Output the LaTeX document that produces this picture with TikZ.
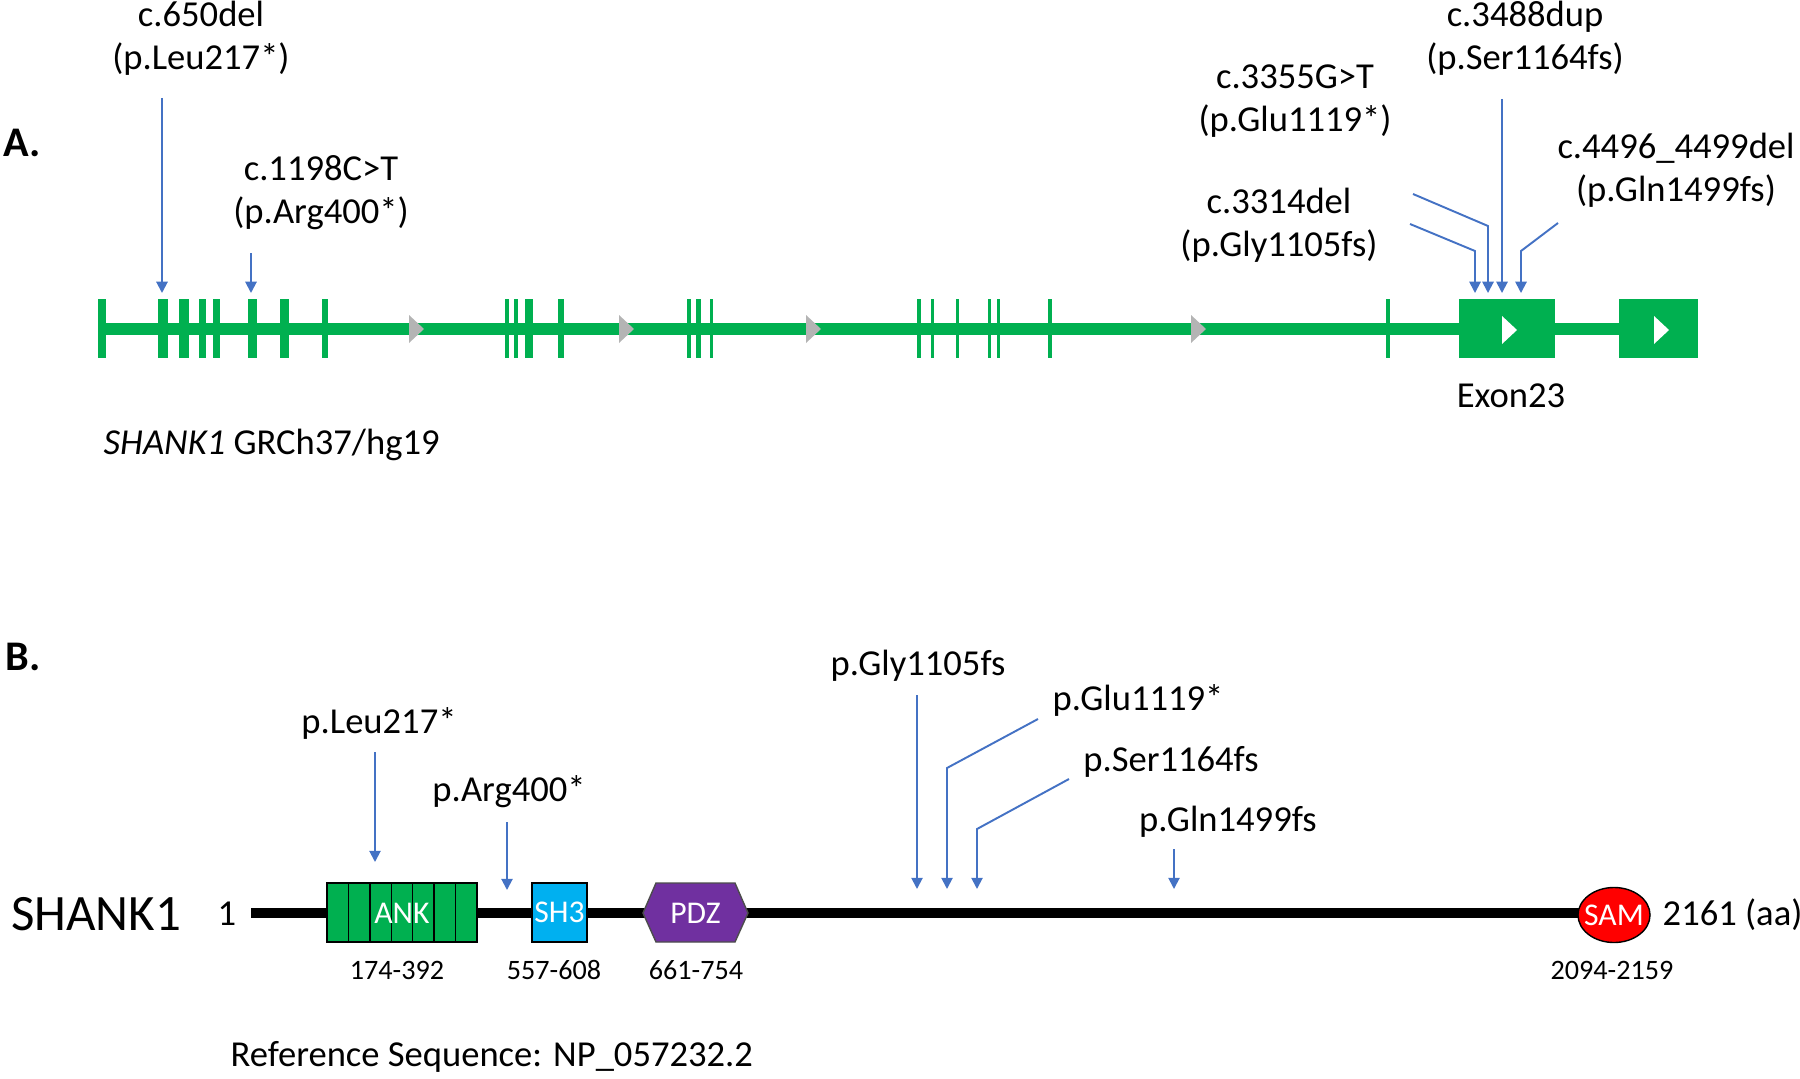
\documentclass[tikz,border=0pt]{standalone}
\usepackage{fontspec}
\setmainfont{Carlito}
\usetikzlibrary{arrows.meta, shapes.geometric}
\definecolor{exgreen}{HTML}{00B050}
\definecolor{mutblue}{HTML}{4472C4}
\definecolor{intgray}{HTML}{B4B4B4}
\definecolor{shblue}{HTML}{00B0F0}
\definecolor{pdzpurple}{HTML}{7030A0}

\begin{document}
\begin{tikzpicture}[x=0.01cm, y=-0.01cm,
  lbl/.style={align=center, inner sep=0pt, font=\fontsize{10.4}{12.2}\selectfont},
  mut/.style={draw=mutblue, line width=0.55pt, -{Triangle[length=3.2pt,width=3.2pt]}},
  exon/.style={fill=exgreen},
  dom/.style={draw=black, line width=0.4pt, text=white, inner sep=0pt, font=\fontsize{9}{10}\selectfont},
  num/.style={inner sep=0pt, font=\fontsize{8}{9}\selectfont},
  panel/.style={inner sep=0pt, font=\fontsize{12}{14}\selectfont\bfseries}]
  \useasboundingbox (0,0) rectangle (1800,1079);

  % A. gene model
  \node[panel] (pa) at (22,143) {A.};
  \draw[exgreen, line width=3.4pt] (100,329) -- (1690,329);
  \foreach \a/\b in {98/106,158/168,179/189,199/206,213/220,248/257,280/289,322/328,
                     505/509,514/518,525/533,558/564,687/691,696/701,710/713,
                     917/921,931/934,956/959,988/991,997/1000,1048/1052,1386/1390}
    \fill[exon] (\a,299) rectangle (\b,358);
  \fill[exon] (1459,299) rectangle (1555,358);
  \fill[exon] (1619,299) rectangle (1698,358);
  \foreach \x in {409,619,806,1191}
    \fill[intgray] (\x,315) -- ({\x+15},329) -- (\x,343) -- cycle;
  \foreach \x in {1502,1654}
    \fill[white] (\x,316) -- ({\x+15},330) -- (\x,344) -- cycle;

  \node[lbl] (m650) at (201,38) {c.650del\\(p.Leu217*)};
  \node[lbl] (m1198) at (321,193) {c.1198C>T\\(p.Arg400*)};
  \node[lbl] (m3355) at (1295,101) {c.3355G>T\\(p.Glu1119*)};
  \node[lbl] (m3488) at (1525,38) {c.3488dup\\(p.Ser1164fs)};
  \node[lbl] (m4496) at (1676,170) {c.4496\_4499del\\(p.Gln1499fs)};
  \node[lbl] (m3314) at (1279,225) {c.3314del\\(p.Gly1105fs)};
  \node[lbl] (ex23) at (1511,396) {Exon23};
  \node[lbl, anchor=west] (gname) at (103,445) {\textit{SHANK1} GRCh37/hg19};

  \foreach \n/\x/\y in {s650/162/98, t650/162/293, s1198/251/253, t1198/251/293,
                        s3314/1410/224, k3314/1475/251, t3314/1475/293,
                        s3355/1413/194, k3355/1488/226, t3355/1488/293,
                        s3488/1502/99, t3488/1502/293,
                        s4496/1558/223, k4496/1521/251, t4496/1521/293}
    \coordinate (\n) at (\x,\y);
  \draw[mut] (s650) -- (t650);
  \draw[mut] (s1198) -- (t1198);
  \draw[mut] (s3314) -- (k3314) -- (t3314);
  \draw[mut] (s3355) -- (k3355) -- (t3355);
  \draw[mut] (s3488) -- (t3488);
  \draw[mut] (s4496) -- (k4496) -- (t4496);

  % B. protein
  \node[panel] (pb) at (23,657) {B.};
  \node[inner sep=0pt, font=\fontsize{14.5}{16}\selectfont] (pname) at (96,914) {SHANK1};
  \node[lbl] (pone) at (227,914) {1};
  \draw[line width=3.1pt] (251,913) -- (1590,913);
  \foreach \i in {0,...,6}
    \draw[fill=exgreen, line width=0.4pt] ({327+\i*150/7},883) rectangle ++({150/7},59);
  \node[dom, draw=none] (ank) at (402,913) {ANK};
  \node[dom, fill=shblue, minimum width=0.55cm, minimum height=0.59cm] (sh3) at (559.5,912.5) {SH3};
  \fill[pdzpurple, draw=black!70, line width=0.4pt]
    (643,913) -- (656,883) -- (735,883) -- (748,913) -- (735,942) -- (656,942) -- cycle;
  \node[dom, draw=none] (pdz) at (695.5,913) {PDZ};
  \filldraw[fill=red, draw=black, line width=0.4pt] (1614,915) ellipse [x radius=0.36cm, y radius=0.275cm];
  \node[dom, draw=none] (sam) at (1614,915) {SAM};
  \node[lbl, anchor=west] (plen) at (1662,915) {2161 (aa)};

  \node[num] (rank) at (397,970) {174-392};
  \node[num] (rsh3) at (554,970) {557-608};
  \node[num] (rpdz) at (696,970) {661-754};
  \node[num] (rsam) at (1612,970) {2094-2159};
  \node[lbl, anchor=west] (refseq) at (230,1057) {Reference Sequence: NP\_057232.2};

  \node[lbl] (pLeu) at (379,723) {p.Leu217*};
  \node[lbl] (pArg) at (509,792) {p.Arg400*};
  \node[lbl] (pGly) at (918,666) {p.Gly1105fs};
  \node[lbl] (pGlu) at (1138,700) {p.Glu1119*};
  \node[lbl] (pSer) at (1171,762) {p.Ser1164fs};
  \node[lbl] (pGln) at (1228,822) {p.Gln1499fs};

  \foreach \n/\x/\y in {sLeu/375/752, tLeu/375/862, sArg/507/822, tArg/507/890,
                        sGly/917/695, tGly/917/889,
                        sGlu/1038/719, kGlu/947/768, tGlu/947/889,
                        sSer/1069/779, kSer/977/829, tSer/977/889,
                        sGln/1174/849, tGln/1174/889}
    \coordinate (\n) at (\x,\y);
  \draw[mut] (sLeu) -- (tLeu);
  \draw[mut] (sArg) -- (tArg);
  \draw[mut] (sGly) -- (tGly);
  \draw[mut] (sGlu) -- (kGlu) -- (tGlu);
  \draw[mut] (sSer) -- (kSer) -- (tSer);
  \draw[mut] (sGln) -- (tGln);
\end{tikzpicture}
\end{document}
